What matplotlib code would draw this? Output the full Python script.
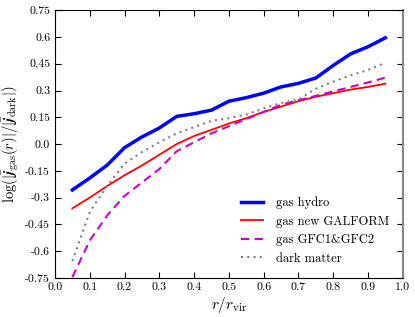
import matplotlib
matplotlib.use('Agg')
import matplotlib.pyplot as plt

plt.rcParams['font.family'] = 'serif'
plt.rcParams['font.serif'] = ['cmr10', 'DejaVu Serif']
plt.rcParams['mathtext.fontset'] = 'cm'
plt.rcParams['axes.unicode_minus'] = False

r = [0.05, 0.1, 0.15, 0.2, 0.25, 0.3, 0.35, 0.4, 0.45, 0.5,
     0.55, 0.6, 0.65, 0.7, 0.75, 0.8, 0.85, 0.9, 0.95]
gas_hydro = [-0.257, -0.19, -0.118, -0.02, 0.04, 0.09, 0.155, 0.17, 0.19, 0.24,
             0.26, 0.285, 0.32, 0.34, 0.37, 0.44, 0.505, 0.545, 0.595]
gas_galform = [-0.36, -0.30, -0.235, -0.175, -0.12, -0.06, 0.0, 0.045, 0.08, 0.115,
               0.145, 0.18, 0.21, 0.24, 0.265, 0.285, 0.305, 0.32, 0.338]
gas_gfc = [-0.745, -0.54, -0.40, -0.29, -0.215, -0.14, -0.04, 0.01, 0.06, 0.10,
           0.14, 0.18, 0.22, 0.245, 0.27, 0.295, 0.32, 0.345, 0.372]
dark = [-0.655, -0.38, -0.235, -0.11, -0.045, 0.01, 0.06, 0.095, 0.13, 0.145,
        0.165, 0.20, 0.23, 0.25, 0.31, 0.35, 0.385, 0.415, 0.455]

xticks = [0.0, 0.1, 0.2, 0.3, 0.4, 0.5, 0.6, 0.7, 0.8, 0.9, 1.0]
yticks = [-0.75, -0.6, -0.45, -0.3, -0.15, 0.0, 0.15, 0.3, 0.45, 0.6, 0.75]

fig = plt.figure(figsize=(4.15, 3.17), dpi=100)
ax = fig.add_axes([0.1325, 0.123, 0.838, 0.845])

ax.plot(r, gas_hydro, color='#0000ff', lw=2.5, label='gas hydro')
ax.plot(r, gas_galform, color='#ff0000', lw=1.3, label='gas new GALFORM')
ax.plot(r, gas_gfc, color='#cc00cc', lw=1.5, ls=(0, (4, 2.5)), label='gas GFC1&GFC2')
ax.plot(r, dark, color='#808080', lw=1.5, ls=(0, (1, 2)), label='dark matter')

ax.set_xlim(0, 1)
ax.set_ylim(-0.75, 0.75)
ax.set_xticks(xticks)
ax.set_xticklabels(['%.1f' % v for v in xticks])
ax.set_yticks(yticks)
ax.set_yticklabels([('%g' % v) if v != 0 else '0.0' for v in yticks])
ax.tick_params(direction='in', top=True, right=True, labelsize=8.5, length=4)
ax.spines['right'].set_color('#888888')
ax.spines['right'].set_linewidth(1.5)

ax.set_xlabel(r'$r/r_{\rm vir}$', fontsize=11, labelpad=2)
ax.set_ylabel(r'$\log(|\bar{\boldsymbol{j}}_{\rm gas}(r)|/|\bar{\boldsymbol{j}}_{\rm dark}|)$',
              fontsize=10.5, labelpad=3)

ax.legend(loc='lower right', frameon=False, fontsize=9, handlelength=1.75,
          handletextpad=1.1, labelspacing=0.5, borderpad=0, borderaxespad=0,
          bbox_to_anchor=(0.962, 0.05))

fig.savefig('out.png', dpi=100)
